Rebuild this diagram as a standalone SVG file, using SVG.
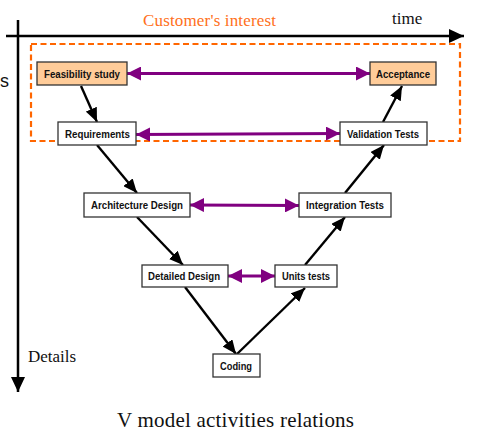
<svg xmlns="http://www.w3.org/2000/svg" width="503" height="437" viewBox="0 0 503 437">
<style>
.box{fill:#fff;stroke:#333;stroke-width:1.3}
.peach{fill:#FFCC99}
.lbl{font-family:"Liberation Sans",Arial,sans-serif;font-weight:bold;font-size:10.5px;fill:#111;text-anchor:middle}
.serif{font-family:"Liberation Serif","Times New Roman",serif;fill:#111}
.flow{stroke:#000;stroke-width:2.4;fill:none;marker-end:url(#ah)}
.rel{stroke:#800080;stroke-width:3;fill:none;marker-start:url(#ph);marker-end:url(#ph)}
</style>
<defs>
<marker id="ah" markerUnits="userSpaceOnUse" viewBox="0 0 14 12" refX="14" refY="6" markerWidth="14" markerHeight="12" orient="auto"><path d="M0,0 L14,6 L0,12 z" fill="#000"/></marker>
<marker id="ph" markerUnits="userSpaceOnUse" viewBox="0 0 14 14" refX="14" refY="7" markerWidth="14" markerHeight="14" orient="auto-start-reverse"><path d="M0,0 L14,7 L0,14 z" fill="#800080"/></marker>
<marker id="ax" markerUnits="userSpaceOnUse" viewBox="0 0 15 14" refX="15" refY="7" markerWidth="15" markerHeight="14" orient="auto"><path d="M0,0 L15,7 L0,14 z" fill="#000"/></marker>
</defs>

<g id="axes">
<line x1="6" y1="36" x2="464" y2="36" stroke="#000" stroke-width="2.5" marker-end="url(#ax)"/>
<line x1="18" y1="20" x2="18" y2="392" stroke="#000" stroke-width="2.5" marker-end="url(#ax)"/>
</g>

<text class="serif" x="209.5" y="26" font-size="17" text-anchor="middle" style="fill:#FF7020" textLength="133" lengthAdjust="spacing">Customer's interest</text>
<text class="serif" x="392" y="24" font-size="17">time</text>
<text x="0" y="87" font-family="'Liberation Sans',Arial,sans-serif" font-size="18" fill="#111">s</text>
<text class="serif" x="28" y="362" font-size="17">Details</text>
<text class="serif" x="235.5" y="427" font-size="21" text-anchor="middle" textLength="237" lengthAdjust="spacing">V model activities relations</text>

<rect id="customer-zone" x="31" y="44" width="429" height="97" fill="none" stroke="#FF6600" stroke-width="2.2" stroke-dasharray="6,3.5"/>

<g id="connectors">
<line class="rel" x1="127" y1="73.5" x2="370" y2="73.5"/>
<line class="rel" x1="136" y1="134.5" x2="340" y2="133.5"/>
<line class="rel" x1="190" y1="205" x2="299" y2="205.5"/>
<line class="rel" x1="228" y1="276" x2="275" y2="276"/>
<line class="flow" x1="81" y1="86" x2="97" y2="122"/>
<line class="flow" x1="97" y1="145" x2="137" y2="193"/>
<line class="flow" x1="137" y1="217" x2="183" y2="265"/>
<line class="flow" x1="185" y1="287" x2="236" y2="354"/>
<line class="flow" x1="237" y1="354" x2="305" y2="288"/>
<line class="flow" x1="305" y1="265" x2="345" y2="217"/>
<line class="flow" x1="345" y1="193" x2="384" y2="145"/>
<line class="flow" x1="383" y1="122" x2="402" y2="86"/>
</g>

<g id="feasibility"><rect class="box peach" x="37" y="62" width="90" height="23"/><text class="lbl" x="82" y="77.5" textLength="76" lengthAdjust="spacingAndGlyphs">Feasibility study</text></g>
<g id="acceptance"><rect class="box peach" x="370" y="62" width="66" height="23"/><text class="lbl" x="403" y="77.5" textLength="54" lengthAdjust="spacingAndGlyphs">Acceptance</text></g>
<g id="requirements"><rect class="box" x="58" y="122" width="78" height="23"/><text class="lbl" x="97.5" y="137.5" textLength="65" lengthAdjust="spacingAndGlyphs">Requirements</text></g>
<g id="validation"><rect class="box" x="340" y="122" width="87" height="23"/><text class="lbl" x="383" y="137.5" textLength="72" lengthAdjust="spacingAndGlyphs">Validation Tests</text></g>
<g id="architecture"><rect class="box" x="84" y="193" width="106" height="24"/><text class="lbl" x="137" y="209" textLength="92" lengthAdjust="spacingAndGlyphs">Architecture Design</text></g>
<g id="integration"><rect class="box" x="299" y="193" width="92" height="24"/><text class="lbl" x="345" y="209" textLength="78" lengthAdjust="spacingAndGlyphs">Integration Tests</text></g>
<g id="detailed"><rect class="box" x="142" y="265" width="86" height="22"/><text class="lbl" x="184" y="280" textLength="72" lengthAdjust="spacingAndGlyphs">Detailed Design</text></g>
<g id="units"><rect class="box" x="275" y="265" width="62" height="22"/><text class="lbl" x="306" y="280" textLength="48" lengthAdjust="spacingAndGlyphs">Units tests</text></g>
<g id="coding"><rect class="box" x="213" y="354" width="47" height="23"/><text class="lbl" x="236" y="369.5" textLength="32" lengthAdjust="spacingAndGlyphs">Coding</text></g>
</svg>
